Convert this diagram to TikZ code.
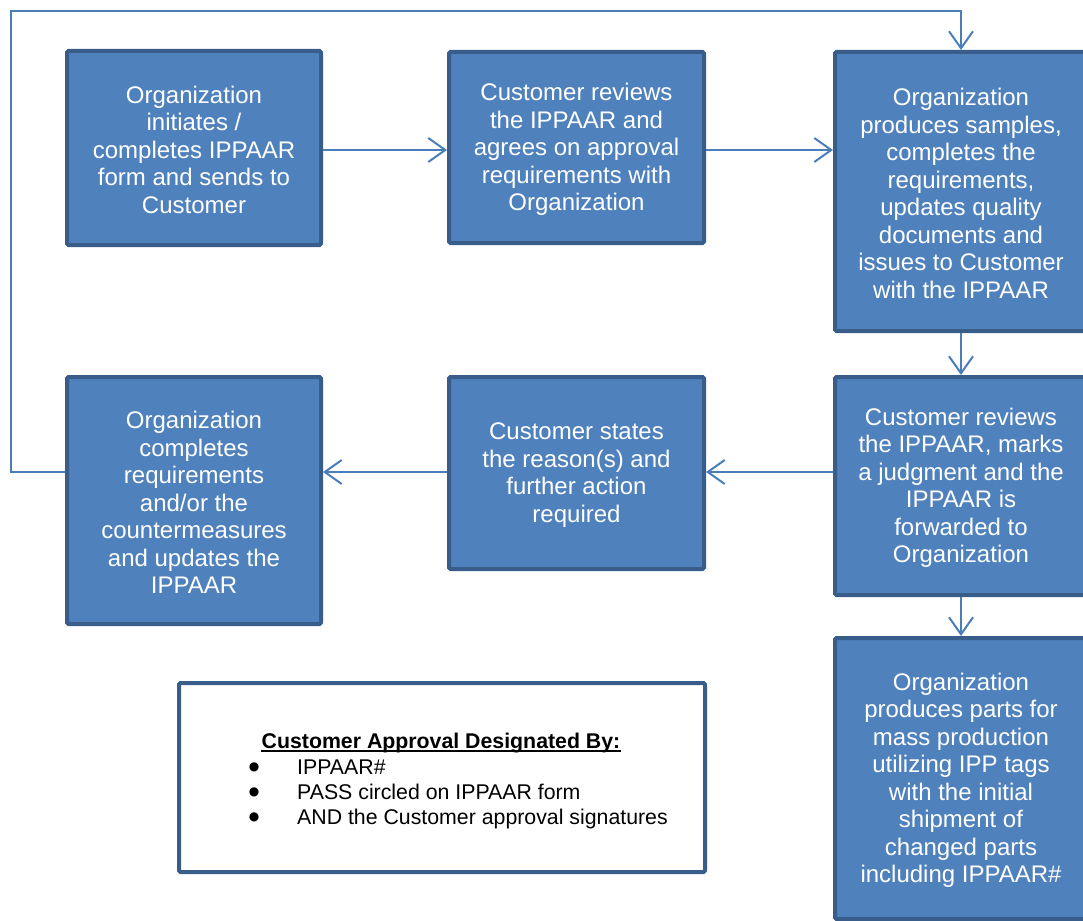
\documentclass[tikz,border=0pt]{standalone}
\usepackage{fontspec}
\setmainfont{Liberation Sans}
\newfontfamily\symbolfont{DejaVu Sans}
\usetikzlibrary{arrows.meta}
\definecolor{boxfill}{HTML}{4F81BD}
\definecolor{boxline}{HTML}{385D8A}
\definecolor{connblue}{HTML}{4A7EBB}
\newcommand{\topstrut}{\rule{0pt}{21pt}}
\begin{document}
\begin{tikzpicture}[x=1pt,y=-1pt,
  stepbox/.style={draw=boxline, fill=boxfill, line width=4pt, rounded corners=1.5pt,
    text=white, align=center, inner sep=0pt, font=\fontsize{24}{27.5}\selectfont},
  legbox/.style={draw=boxline, fill=white, line width=4pt, rounded corners=1.5pt, inner sep=0pt},
  flow/.style={draw=connblue, line width=2pt, -{Straight Barb[length=17pt,width=24pt,line width=2pt]}},
  legtext/.style={text=black, inner sep=0pt, font=\fontsize{21.3}{24.5}\selectfont},
  bulletmark/.style={text=black, inner sep=0pt, align=center, font=\symbolfont\fontsize{12}{25}\selectfont},
  ]
\useasboundingbox (0,0) rectangle (1083,920);
\clip (0,0) rectangle (1083,920);

\node[stepbox, minimum width=254pt, minimum height=194pt] (b1) at (194,148)
  {\topstrut Organization\\initiates /\\completes IPPAAR\\form and sends to\\Customer};
\node[stepbox, minimum width=255pt, minimum height=191pt] (b2) at (576.5,147.5)
  {\topstrut Customer reviews\\the IPPAAR and\\agrees on approval\\requirements with\\Organization};
\node[stepbox, minimum width=252pt, minimum height=279pt] (b3) at (961,191.5)
  {\topstrut Organization\\produces samples,\\completes the\\requirements,\\updates quality\\documents and\\issues to Customer\\with the IPPAAR};
\node[stepbox, minimum width=252pt, minimum height=218pt] (b4) at (961,486)
  {\topstrut Customer reviews\\the IPPAAR, marks\\a judgment and the\\IPPAAR is\\forwarded to\\Organization};
\node[stepbox, minimum width=255pt, minimum height=192pt] (b5) at (576.5,473)
  {\topstrut Customer states\\the reason(s) and\\further action\\required};
\node[stepbox, minimum width=254pt, minimum height=247pt] (b6) at (194,500.5)
  {\topstrut Organization\\completes\\requirements\\and/or the\\countermeasures\\and updates the\\IPPAAR};
\node[stepbox, minimum width=252pt, minimum height=281pt] (b7) at (961,778.5)
  {\topstrut Organization\\produces parts for\\mass production\\utilizing IPP tags\\with the initial\\shipment of\\changed parts\\including IPPAAR\#};

\node[legbox, minimum width=526pt, minimum height=189pt] (leg) at (442,777.5) {};
\node[legtext, font=\fontsize{21.3}{24.5}\selectfont\bfseries, anchor=base] (legh) at (441,748.5)
  {Customer Approval Designated By:};
\draw[black, line width=1.6pt] ([yshift=-2.6pt]legh.base west) -- ([yshift=-2.6pt]legh.base east);
\node[bulletmark] (bullets) at (254,792) {●\\●\\●};
\node[legtext, anchor=base west] (li1) at (297,774.6) {IPPAAR\#};
\node[legtext, anchor=base west] (li2) at (297,799.6) {PASS circled on IPPAAR form};
\node[legtext, anchor=base west] (li3) at (297,824.6) {AND the Customer approval signatures};

\draw[flow] (b1.east |- 0,150) -- (b2.west |- 0,150);
\draw[flow] (b2.east |- 0,150) -- (b3.west |- 0,150);
\draw[flow] (b3.south) -- (b4.north);
\draw[flow] (b4.west |- 0,472) -- (b5.east |- 0,472);
\draw[flow] (b5.west |- 0,472) -- (b6.east |- 0,472);
\draw[flow] (b4.south) -- (b7.north);

\coordinate (lc1) at (11,472);
\coordinate (lc2) at (11,11);
\draw[flow] (b6.west |- lc1) -- (lc1) -- (lc2) -- (lc2 -| b3.north) -- (b3.north);
\end{tikzpicture}
\end{document}
